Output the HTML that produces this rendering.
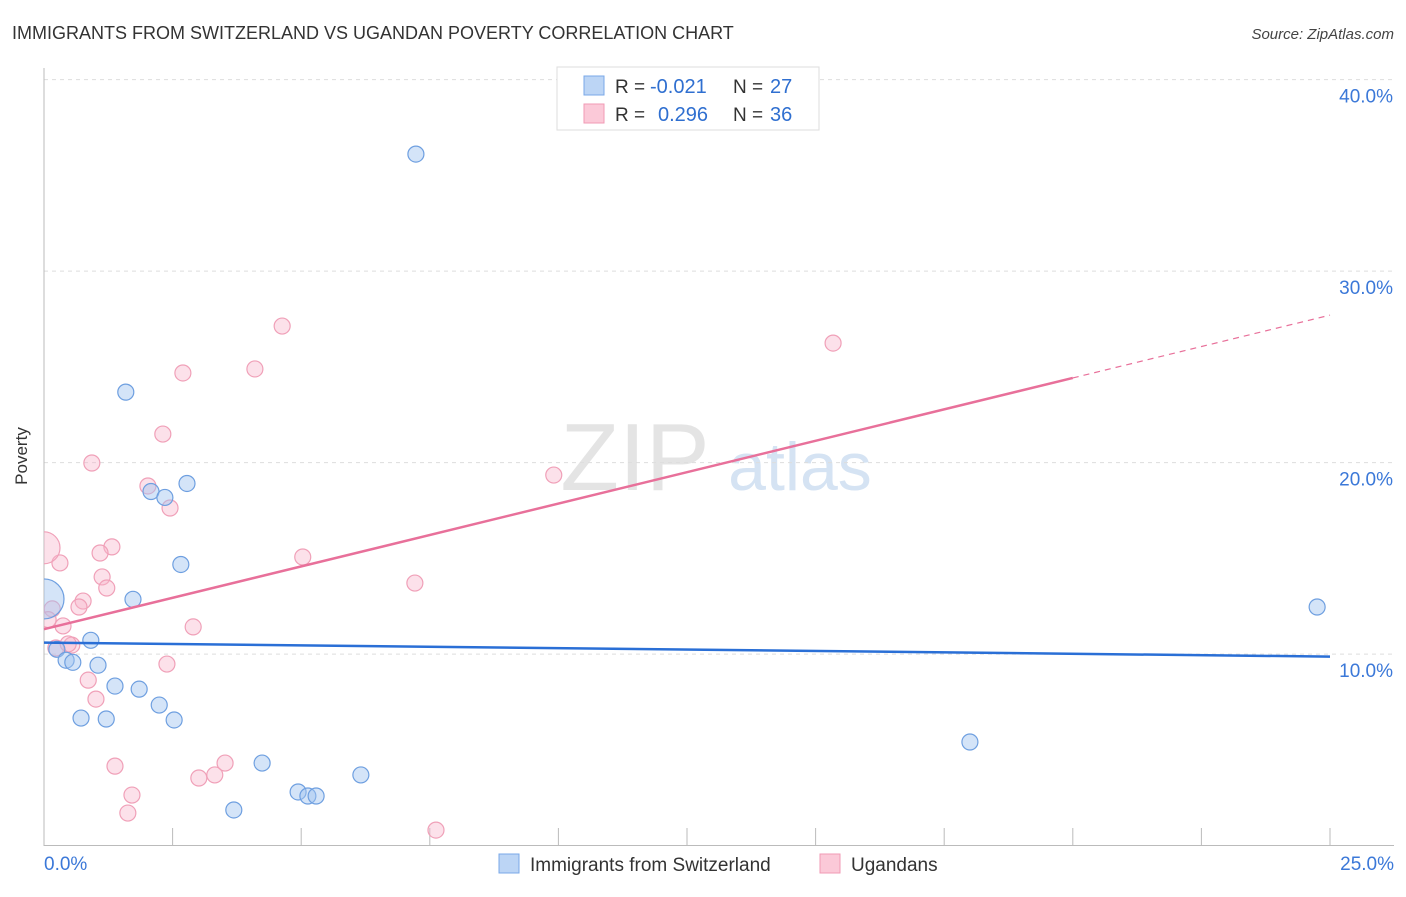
<!DOCTYPE html>
<html><head><meta charset="utf-8">
<style>
body{margin:0;background:#fff;font-family:"Liberation Sans",sans-serif;}
svg text{font-family:"Liberation Sans",sans-serif;}
</style></head>
<body>
<svg width="1406" height="892" xmlns="http://www.w3.org/2000/svg" id="chart">
<text x="12" y="39" font-size="18" fill="#333">IMMIGRANTS FROM SWITZERLAND VS UGANDAN POVERTY CORRELATION CHART</text>
<text x="1394" y="39" font-size="15" fill="#444" font-style="italic" text-anchor="end">Source: ZipAtlas.com</text>
<text x="27" y="456" font-size="17" fill="#333" transform="rotate(-90 27 456)" text-anchor="middle">Poverty</text>
<g>
<text x="635" y="490" font-size="96" fill="#e4e4e4" font-family="Liberation Serif,serif" text-anchor="middle">ZIP</text>
<text x="800" y="490" font-size="68" fill="#d5e3f3" text-anchor="middle">atlas</text>
</g>
<g id="grid"></g>
<g id="axes"></g>
<g id="marks"></g>
<g>
<rect x="557" y="67" width="262" height="63" fill="#fff" stroke="#ddd"/>
<rect x="584" y="76" width="20" height="19" fill="#bcd5f5" stroke="#7aa8e8"/>
<rect x="584" y="104" width="20" height="19" fill="#fbc9d8" stroke="#f09ab4"/>
<text x="615" y="93" font-size="19" fill="#333">R =</text>
<text x="650" y="93" font-size="20" fill="#2f6fd0">-0.021</text>
<text x="733" y="93" font-size="19" fill="#333">N =</text>
<text x="770" y="93" font-size="20" fill="#2f6fd0">27</text>
<text x="615" y="121" font-size="19" fill="#333">R =</text>
<text x="658" y="121" font-size="20" fill="#2f6fd0">0.296</text>
<text x="733" y="121" font-size="19" fill="#333">N =</text>
<text x="770" y="121" font-size="20" fill="#2f6fd0">36</text>
</g>
<g>
<rect x="499" y="854" width="20" height="19" fill="#bcd5f5" stroke="#7aa8e8"/>
<text x="530" y="871" font-size="19" fill="#333">Immigrants from Switzerland</text>
<rect x="820" y="854" width="20" height="19" fill="#fbc9d8" stroke="#f09ab4"/>
<text x="851" y="871" font-size="19" fill="#333">Ugandans</text>
</g>
</svg>
<script>
const yTicks=[10,20,30,40];
const yTickLabels=["10.0%","20.0%","30.0%","40.0%"];
const xTicks=[0,2.5,5,7.5,10,12.5,15,17.5,20,22.5,25];
const blueX=[1.59,7.23,2.08,2.35,2.78,2.66,1.73,0.91,0.25,0.43,0.56,1.05,1.38,1.85,2.24,0.72,1.21,2.53,4.24,4.94,5.13,5.29,6.16,3.69,18.0,24.75,0];
const blueY=[23.68,36.11,18.49,18.18,18.91,14.68,12.86,10.72,10.25,9.68,9.57,9.42,8.33,8.17,7.34,6.66,6.61,6.56,4.31,2.80,2.59,2.59,3.69,1.86,5.41,12.46,12.88];
const blueR=[8,8,8,8,8,8,8,8,8,8,8,8,8,8,8,8,8,8,8,8,8,8,8,8,8,8,20];
const pinkX=[4.63,2.70,4.10,15.34,2.31,0.93,2.02,2.45,9.91,1.32,1.09,5.03,0.31,1.13,1.22,7.21,0.76,0.68,0.16,0.37,2.90,0.54,0.23,0.47,2.39,0.86,1.01,1.38,3.52,3.32,3.01,1.71,1.63,7.62,0,0.08];
const pinkY=[27.13,24.68,24.89,26.24,21.49,19.98,18.78,17.63,19.35,15.60,15.28,15.07,14.76,14.03,13.45,13.71,12.77,12.46,12.36,11.47,11.42,10.47,10.32,10.53,9.48,8.64,7.65,4.15,4.31,3.69,3.53,2.64,1.70,0.81,15.55,11.8];
const pinkR=[8,8,8,8,8,8,8,8,8,8,8,8,8,8,8,8,8,8,8,8,8,8,8,8,8,8,8,8,8,8,8,8,8,8,16,8];
const blueTrend=[10.6,9.87];
const pinkTrend=[11.3,27.7];
const pinkSolidEnd=20;
const NS="http://www.w3.org/2000/svg";
const X=v=>44+v*51.44, Y=v=>845.6-v*19.15;
function mk(t,a,p){const e=document.createElementNS(NS,t);for(const k in a)e.setAttribute(k,a[k]);p.appendChild(e);return e;}
const grid=document.getElementById('grid'),axes=document.getElementById('axes'),marks=document.getElementById('marks');
yTicks.forEach((t,i)=>{
 const l=mk('line',{x1:44,x2:1394,y1:Y(t),y2:Y(t),stroke:'#ddd','stroke-dasharray':'4,4'},grid);
 
 
 const tx=mk('text',{x:1393,y:Y(t)+23,'font-size':19,fill:'#3b78d8','text-anchor':'end'},axes);
 tx.textContent=yTickLabels[i];
 
 
});
const ya=mk('line',{x1:44,x2:44,y1:68,y2:846,stroke:'#bbb'},axes);


const xa=mk('line',{x1:44,x2:1394,y1:845.5,y2:845.5,stroke:'#bbb'},axes);


xTicks.forEach(t=>{const l=mk('line',{x1:X(t),x2:X(t),y1:828,y2:846,stroke:'#bbb'},axes);
 
 });
const x0=mk('text',{x:44,y:870,'font-size':19,fill:'#3b78d8'},axes);x0.textContent='0.0%';


const x1=mk('text',{x:1394,y:870,'font-size':19,fill:'#3b78d8','text-anchor':'end'},axes);x1.textContent='25.0%';


const clip=mk('clipPath',{id:'pc'},marks);mk('rect',{x:44,y:60,width:1360,height:786},clip);
const g=mk('g',{'clip-path':'url(#pc)'},marks);
pinkX.forEach((v,i)=>{const c=mk('circle',{cx:X(v),cy:Y(pinkY[i]),r:pinkR[i],fill:'rgba(248,180,202,0.4)',stroke:'#f0a0b8','stroke-width':1.2},g);
 
 });
blueX.forEach((v,i)=>{const c=mk('circle',{cx:X(v),cy:Y(blueY[i]),r:blueR[i],fill:'rgba(160,196,240,0.45)',stroke:'#6e9fe0','stroke-width':1.2},g);
 
 });
const pv=t=>pinkTrend[0]+(pinkTrend[1]-pinkTrend[0])*t/25;
const bl=mk('line',{x1:X(0),y1:Y(blueTrend[0]),x2:X(25),y2:Y(blueTrend[1]),stroke:'#2a6fd6','stroke-width':2.5},marks);


const pl=mk('line',{x1:X(0),y1:Y(pv(0)),x2:X(pinkSolidEnd),y2:Y(pv(pinkSolidEnd)),stroke:'#e8709a','stroke-width':2.5},marks);


const pd=mk('line',{x1:X(pinkSolidEnd),y1:Y(pv(pinkSolidEnd)),x2:X(25),y2:Y(pv(25)),stroke:'#e8709a','stroke-width':1.2,'stroke-dasharray':'6,5'},marks);


</script>
</body></html>
